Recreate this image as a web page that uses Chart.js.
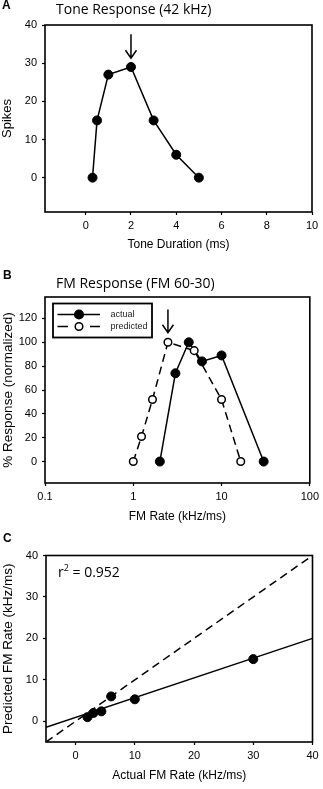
<!DOCTYPE html>
<html><head><meta charset="utf-8">
<script src="https://cdn.jsdelivr.net/npm/chart.js@4/dist/chart.umd.min.js"></script>
<style>
html,body{margin:0;padding:0;background:#fff}
body{width:323px;height:789px;position:relative;overflow:hidden}
canvas{position:absolute;left:0}
.lbl{position:absolute;font:bold 12px Arial,"Liberation Sans",sans-serif;line-height:12px;color:#000}
.ttl{position:absolute;font:14px "Open Sans",sans-serif;line-height:14px;color:#000;white-space:nowrap}
</style></head><body>
<canvas id="cA" width="323" height="260" style="top:0px"></canvas>
<canvas id="cB" width="323" height="270" style="top:260px"></canvas>
<canvas id="cC" width="323" height="259" style="top:530px"></canvas>
<div class="lbl" style="left:2px;top:-1px">A</div>
<div class="ttl" style="left:56px;top:2px">Tone Response (42 kHz)</div>
<div class="lbl" style="left:3px;top:269px">B</div>
<div class="ttl" style="left:56px;top:276px">FM Response (FM 60-30)</div>
<div class="lbl" style="left:3px;top:532px">C</div>
<div class="ttl" style="left:58px;top:565px">r<sup style="font-size:9px;vertical-align:6px;line-height:0">2</sup> = 0.952</div>
<script>
// ---- Panel A data ----
const toneDuration = [0.3, 0.5, 1, 2, 3, 4, 5];
const toneSpikes = [0, 15, 27, 29, 15, 6, 0];
const ticksAx = [0, 2, 4, 6, 8, 10];
const ticksAy = [0, 10, 20, 30, 40];
// ---- Panel B data ----
const fmRateActual = [2, 3, 4.25, 6, 10, 30];
const fmRespActual = [0, 74, 100, 84, 89, 0];
const fmRatePred = [1, 1.24, 1.65, 2.47, 4.9, 10, 16.5];
const fmRespPred = [0, 21, 52, 100, 93, 52, 0];
const ticksBx = [0.1, 1, 10, 100];
const ticksBy = [0, 20, 40, 60, 80, 100, 120];
// ---- Panel C data ----
const actualRate = [2, 3, 4.35, 6, 10, 30];
const predictedRate = [1, 2, 2.4, 6, 5.3, 15];
const fitX = [-5, 40];
const fitY = [-1.45, 20];
const unityX = [-5, 39.5];
const unityY = [-5, 39.5];
const ticksC = [0, 10, 20, 30, 40];

Chart.defaults.font.family = 'Arial, "Liberation Sans", sans-serif';
Chart.defaults.color = '#000';
Chart.defaults.animation = false;

const pts = (xs, ys) => xs.map((x, i) => ({x, y: ys[i]}));

function axis(o) {
  return {
    type: o.type || 'linear', min: o.min, max: o.max, position: o.position,
    afterBuildTicks: s => { s.ticks = o.ticks.map(v => ({value: v})); },
    afterFit: s => { if (o.w !== undefined) s.width = o.w; if (o.h !== undefined) s.height = o.h; },
    ticks: { callback: (v, i) => String(o.ticks[i]), padding: o.pad, font: {size: 11}, color: '#000', autoSkip: false, maxRotation: 0 },
    grid: { display: true, drawOnChartArea: false, drawTicks: true, tickLength: 3, tickWidth: 1.2, tickColor: '#000' },
    border: { display: false },
    title: { display: true, text: o.title, font: {size: o.tsize}, color: '#000', padding: o.tpad }
  };
}

const framePlugin = {
  id: 'frame',
  afterDraw(chart) {
    const {ctx, chartArea: a} = chart;
    ctx.save(); ctx.strokeStyle = '#000'; ctx.lineWidth = 1.6;
    ctx.strokeRect(a.left, a.top, a.right - a.left, a.bottom - a.top);
    ctx.restore();
  }
};
function arrowPlugin(xv, y1, y2) {
  return {
    id: 'arrow',
    afterDatasetsDraw(chart) {
      const {ctx} = chart;
      const px = chart.scales.x.getPixelForValue(xv);
      const p1 = chart.scales.y.getPixelForValue(y1);
      const p2 = chart.scales.y.getPixelForValue(y2);
      ctx.save(); ctx.strokeStyle = '#000'; ctx.lineWidth = 1.5; ctx.setLineDash([]);
      ctx.beginPath(); ctx.moveTo(px, p1); ctx.lineTo(px, p2);
      ctx.moveTo(px - 5.5, p2 - 8); ctx.lineTo(px, p2); ctx.lineTo(px + 5.5, p2 - 8);
      ctx.stroke(); ctx.restore();
    }
  };
}
const legendPlugin = {
  id: 'boxLegend',
  afterDraw(chart) {
    const {ctx, chartArea: a} = chart;
    const x0 = a.left + 8, y0 = a.top + 6.5, w = 99, h = 34;
    ctx.save();
    ctx.fillStyle = '#fff'; ctx.fillRect(x0, y0, w, h);
    ctx.strokeStyle = '#000'; ctx.lineWidth = 1.8; ctx.strokeRect(x0, y0, w, h);
    const items = [
      {label: 'actual', y: y0 + 11, dash: false, fill: '#000'},
      {label: 'predicted', y: y0 + 23, dash: true, fill: '#fff'}
    ];
    items.forEach(it => {
      ctx.lineWidth = 1.5; ctx.strokeStyle = '#000';
      ctx.beginPath();
      if (it.dash) {
        ctx.moveTo(x0 + 4.5, it.y); ctx.lineTo(x0 + 15, it.y);
        ctx.moveTo(x0 + 37, it.y); ctx.lineTo(x0 + 47, it.y);
      } else {
        ctx.moveTo(x0 + 4.5, it.y); ctx.lineTo(x0 + 47, it.y);
      }
      ctx.stroke();
      ctx.beginPath(); ctx.arc(x0 + 26, it.y, it.dash ? 3.8 : 4.3, 0, Math.PI * 2);
      ctx.fillStyle = it.fill; ctx.fill(); ctx.stroke();
      ctx.fillStyle = '#222'; ctx.font = '9px Arial, "Liberation Sans", sans-serif';
      ctx.textBaseline = 'middle'; ctx.textAlign = 'left';
      ctx.fillText(it.label, x0 + 57.5, it.y);
    });
    ctx.restore();
  }
};

const solidStyle = {borderColor: '#000', borderWidth: 1.5, pointRadius: 4.5, pointBackgroundColor: '#000', pointBorderColor: '#000', pointBorderWidth: 1, showLine: true, fill: false, tension: 0};
const openStyle = {borderColor: '#000', borderWidth: 1.5, borderDash: [8, 5], pointRadius: 3.8, pointBackgroundColor: '#fff', pointBorderColor: '#000', pointBorderWidth: 1.5, showLine: true, fill: false, tension: 0};

// Panel A
new Chart(document.getElementById('cA'), {
  type: 'scatter',
  data: { datasets: [ Object.assign({label: 'spikes', data: pts(toneDuration, toneSpikes)}, solidStyle) ] },
  options: {
    responsive: false, animation: false,
    layout: { padding: {top: 25, right: 11, left: 0, bottom: 0} },
    plugins: { legend: {display: false}, tooltip: {enabled: false} },
    scales: {
      x: axis({min: -1.8, max: 10, ticks: ticksAx, h: 48, pad: 4, title: 'Tone Duration (ms)', tsize: 12, tpad: {top: 0, bottom: 8}, position: 'bottom'}),
      y: axis({min: -9, max: 40, ticks: ticksAy, w: 45, pad: 5, title: 'Spikes', tsize: 13, tpad: {top: 0, bottom: 0}, position: 'left'})
    }
  },
  plugins: [framePlugin, arrowPlugin(2, 37.6, 31.3)]
});

// Panel B
new Chart(document.getElementById('cB'), {
  type: 'scatter',
  data: { datasets: [
    Object.assign({label: 'predicted', data: pts(fmRatePred, fmRespPred)}, openStyle),
    Object.assign({label: 'actual', data: pts(fmRateActual, fmRespActual)}, solidStyle)
  ] },
  options: {
    responsive: false, animation: false,
    layout: { padding: {top: 37, right: 10, left: 0, bottom: 0} },
    plugins: { legend: {display: false}, tooltip: {enabled: false} },
    scales: {
      x: axis({type: 'logarithmic', min: 0.1, max: 100, ticks: ticksBx, h: 47, pad: 4, title: 'FM Rate (kHz/ms)', tsize: 12, tpad: {top: 0, bottom: 6}, position: 'bottom'}),
      y: axis({min: -18, max: 138, ticks: ticksBy, w: 45, pad: 5, title: '% Response (normalized)', tsize: 13.5, tpad: {top: 0, bottom: 0}, position: 'left'})
    }
  },
  plugins: [framePlugin, legendPlugin, arrowPlugin(2.47, 127.5, 108)]
});

// Panel C
new Chart(document.getElementById('cC'), {
  type: 'scatter',
  data: { datasets: [
    Object.assign({label: 'points', data: pts(actualRate, predictedRate)}, solidStyle, {showLine: false}),
    {label: 'fit', data: pts(fitX, fitY), showLine: true, borderColor: '#000', borderWidth: 1.5, pointRadius: 0},
    {label: 'unity', data: pts(unityX, unityY), showLine: true, borderColor: '#000', borderWidth: 1.5, borderDash: [8, 5], pointRadius: 0}
  ] },
  options: {
    responsive: false, animation: false,
    layout: { padding: {top: 25.5, right: 10.5, left: 0, bottom: 0} },
    plugins: { legend: {display: false}, tooltip: {enabled: false} },
    scales: {
      x: axis({min: -5, max: 40, ticks: ticksC, h: 47, pad: 4, title: 'Actual FM Rate (kHz/ms)', tsize: 12, tpad: {top: 0, bottom: 6}, position: 'bottom'}),
      y: axis({min: -5, max: 40, ticks: ticksC, w: 46, pad: 5, title: 'Predicted FM Rate (kHz/ms)', tsize: 13.5, tpad: {top: 0, bottom: 0}, position: 'left'})
    }
  },
  plugins: [framePlugin]
});
</script>
</body></html>
